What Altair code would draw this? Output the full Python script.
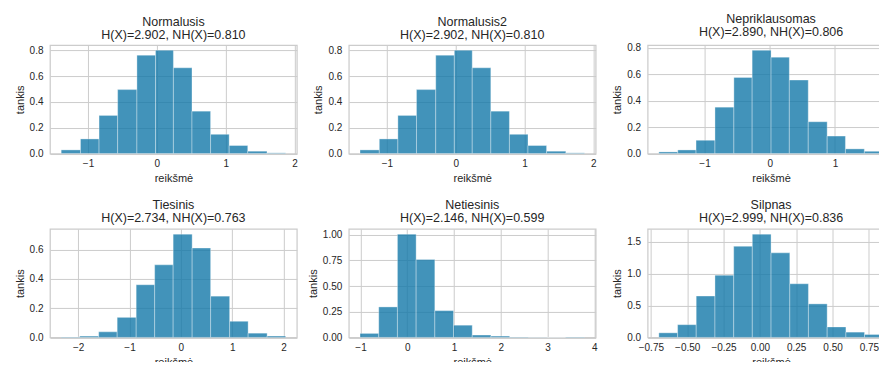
import altair as alt
import pandas as pd

FONT = "Liberation Sans"
TXT = "#262626"

titles = ["Normalusis", "Normalusis2", "Nepriklausomas", "Tiesinis", "Netiesinis", "Silpnas"]
subtitles = [
    "H(X)=2.902, NH(X)=0.810",
    "H(X)=2.902, NH(X)=0.810",
    "H(X)=2.890, NH(X)=0.806",
    "H(X)=2.734, NH(X)=0.763",
    "H(X)=2.146, NH(X)=0.599",
    "H(X)=2.999, NH(X)=0.836",
]

# bin edges (13) and densities (12) per panel
edges_normalusis = [-1.39, -1.11, -0.84, -0.57, -0.29, -0.02, 0.24, 0.51, 0.78, 1.05, 1.32, 1.60, 1.87]
dens_normalusis = [0.028, 0.113, 0.295, 0.495, 0.762, 0.800, 0.664, 0.328, 0.149, 0.062, 0.018, 0.005]

edges_normalusis2 = [-1.39, -1.11, -0.84, -0.57, -0.29, -0.02, 0.24, 0.51, 0.78, 1.05, 1.32, 1.60, 1.87]
dens_normalusis2 = [0.028, 0.113, 0.295, 0.495, 0.762, 0.800, 0.664, 0.328, 0.149, 0.062, 0.018, 0.005]

edges_nepriklausomas = [-1.70, -1.41, -1.13, -0.84, -0.55, -0.27, 0.02, 0.30, 0.59, 0.88, 1.16, 1.45, 1.74]
dens_nepriklausomas = [0.012, 0.027, 0.100, 0.350, 0.575, 0.780, 0.728, 0.555, 0.240, 0.132, 0.035, 0.017]

edges_tiesinis = [-2.33, -1.97, -1.60, -1.24, -0.87, -0.51, -0.15, 0.22, 0.58, 0.95, 1.31, 1.68, 2.04]
dens_tiesinis = [0.002, 0.009, 0.038, 0.137, 0.360, 0.496, 0.706, 0.611, 0.282, 0.110, 0.029, 0.009]

edges_netiesinis = [-1.01, -0.61, -0.21, 0.19, 0.59, 0.99, 1.39, 1.79, 2.19, 2.59, 2.99, 3.39, 3.79]
dens_netiesinis = [0.039, 0.297, 1.006, 0.758, 0.261, 0.119, 0.023, 0.013, 0.004, 0.002, 0.001, 0.004]

edges_silpnas = [-0.695, -0.566, -0.438, -0.309, -0.180, -0.052, 0.077, 0.206, 0.334, 0.463, 0.592, 0.720, 0.849]
dens_silpnas = [0.072, 0.200, 0.650, 0.977, 1.432, 1.623, 1.329, 0.843, 0.527, 0.165, 0.083, 0.047]

x_ticks = [
    [-1, 0, 1, 2],
    [-1, 0, 1, 2],
    [-1, 0, 1],
    [-2, -1, 0, 1, 2],
    [-1, 0, 1, 2, 3, 4],
    [-0.75, -0.5, -0.25, 0, 0.25, 0.5, 0.75],
]
x_formats = ["d", "d", "d", "d", "d", ".2f"]
y_ticks = [
    [0, 0.2, 0.4, 0.6, 0.8],
    [0, 0.2, 0.4, 0.6, 0.8],
    [0, 0.2, 0.4, 0.6, 0.8],
    [0, 0.2, 0.4, 0.6],
    [0, 0.25, 0.5, 0.75, 1.0],
    [0, 0.5, 1.0, 1.5],
]
y_formats = [".1f", ".1f", ".1f", ".1f", ".2f", ".1f"]

all_edges = [edges_normalusis, edges_normalusis2, edges_nepriklausomas,
             edges_tiesinis, edges_netiesinis, edges_silpnas]
all_dens = [dens_normalusis, dens_normalusis2, dens_nepriklausomas,
            dens_tiesinis, dens_netiesinis, dens_silpnas]


def panel(i):
    e = all_edges[i]
    d = all_dens[i]
    df = pd.DataFrame({"lo": e[:-1], "hi": e[1:], "d": d})
    rng = e[-1] - e[0]
    xd = [e[0] - 0.05 * rng, e[-1] + 0.05 * rng]
    yd = [0, max(d) * 1.05]
    return (
        alt.Chart(df, title=alt.TitleParams(
            text=[titles[i], subtitles[i]], fontSize=12.5, lineHeight=13,
            fontWeight="normal", font=FONT, color=TXT, anchor="middle", offset=4))
        .mark_bar(fill="#1378a9", fillOpacity=0.8, stroke="white",
                  strokeWidth=0.75, strokeOpacity=0.45)
        .encode(
            x=alt.X("lo:Q", scale=alt.Scale(domain=xd, nice=False, zero=False),
                    axis=alt.Axis(values=x_ticks[i], format=x_formats[i], title="reikšmė")),
            x2="hi:Q",
            y=alt.Y("d:Q", scale=alt.Scale(domain=yd, nice=False, zero=False),
                    axis=alt.Axis(values=y_ticks[i], format=y_formats[i], title="tankis")),
            y2=alt.datum(0),
        )
        .properties(width=247, height=108.5)
    )


chart = (
    alt.concat(*[panel(i) for i in range(6)], columns=3,
               spacing={"row": 75, "column": 52}, bounds="flush")
    .properties(padding={"left": 5, "top": 4, "right": -16.5, "bottom": -7})
    .configure_view(stroke="#cccccc", strokeWidth=1.25)
    .configure_axis(
        grid=True, gridColor="#cccccc", gridWidth=1, domain=False, ticks=False,
        tickSize=0, labelFont=FONT, labelFontSize=10, labelColor=TXT,
        titleFont=FONT, titleFontSize=11, titleFontWeight="normal", titleColor=TXT,
        labelFlush=False, labelOverlap=False,
    )
    .configure_axisX(labelPadding=5, titlePadding=4)
    .configure_axisY(labelPadding=7, titlePadding=4)
)

chart.save("out.html", embed_options={"renderer": "svg", "actions": False})
